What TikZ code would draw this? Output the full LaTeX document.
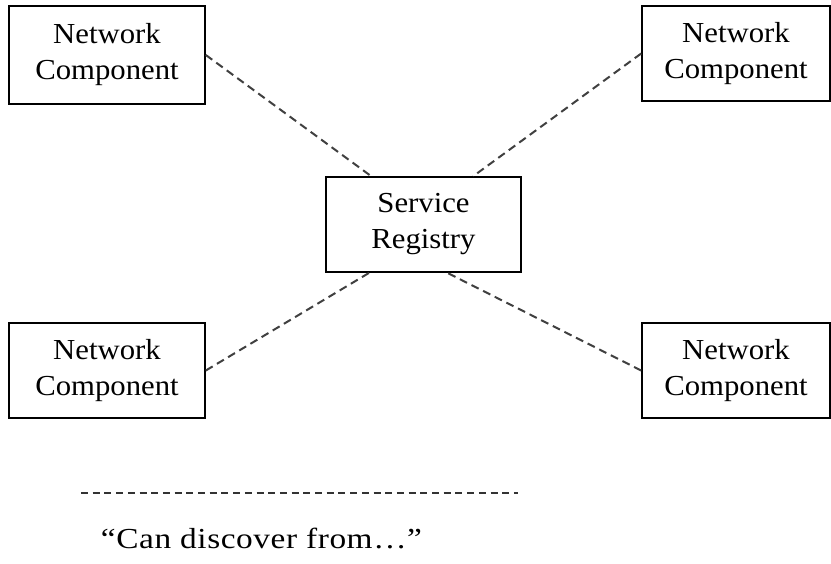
\documentclass[tikz,border=0pt]{standalone}
\usepackage{fontspec}
\setmainfont{Liberation Serif}[FakeStretch=1.06]
\newfontfamily\quotefont{Liberation Serif}[FakeStretch=1.15, LetterSpace=2]
\begin{document}
\begin{tikzpicture}[x=1pt,y=1pt,
  comp/.style={draw, line width=1.6pt, inner sep=0pt, align=center,
    font=\fontsize{29}{36}\selectfont},
  link/.style={line width=2pt, dash pattern=on 8pt off 5pt, draw=black!75},
  legendline/.style={line width=2pt, dash pattern=on 7pt off 4.7pt, draw=black!80}]
\useasboundingbox (0,0) rectangle (831,-563);
\node[comp, minimum width=196pt, minimum height=98pt, text depth=7pt] (tl) at (107,-55) {Network\\Component};
\node[comp, minimum width=188pt, minimum height=95pt, text depth=7pt] (tr) at (736,-53.5) {Network\\Component};
\node[comp, minimum width=196pt, minimum height=95pt, text depth=7pt] (bl) at (107,-370.5) {Network\\Component};
\node[comp, minimum width=188pt, minimum height=95pt, text depth=7pt] (br) at (736,-370.5) {Network\\Component};
\node[comp, minimum width=195pt, minimum height=95pt, text depth=7pt] (sr) at (423.5,-224.5) {Service\\Registry};
\draw[link] (tl.east) -- ([xshift=46pt]sr.north west);
\draw[link] (tr.west) -- ([xshift=148pt]sr.north west);
\draw[link] (bl.east) -- ([xshift=44pt]sr.south west);
\draw[link] (br.west) -- ([xshift=122pt]sr.south west);
\coordinate (la) at (81,-493);
\coordinate (lb) at (518,-493);
\draw[legendline] (la) -- (lb);
\node[anchor=base, inner sep=0pt, font=\quotefont\fontsize{29}{36}\selectfont] (lt) at (261.5,-548) {“Can discover from…”};
\end{tikzpicture}
\end{document}
